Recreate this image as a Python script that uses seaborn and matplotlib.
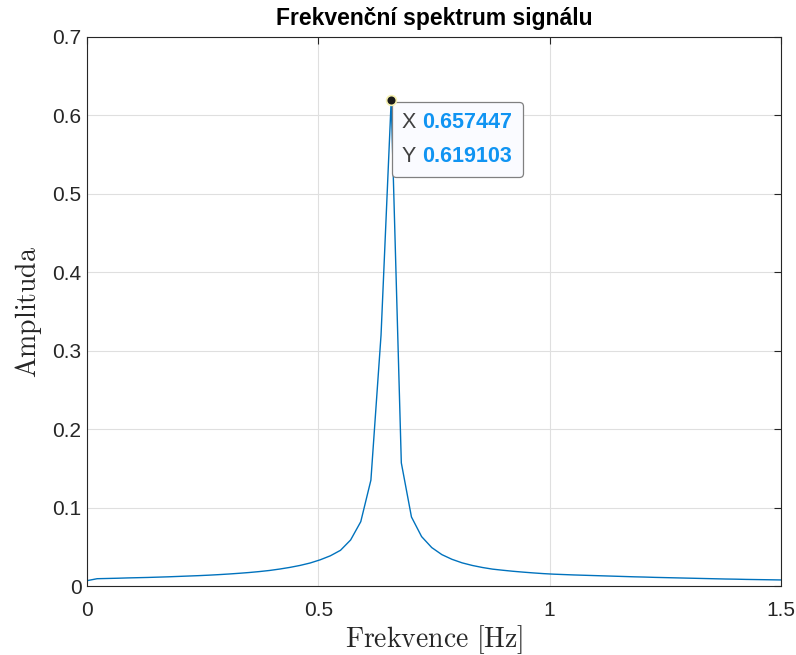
import numpy as np
import pandas as pd
import matplotlib
matplotlib.use("Agg")
import matplotlib.pyplot as plt
import seaborn as sns
from matplotlib.offsetbox import TextArea, HPacker, VPacker, AnnotationBbox

# ---- data ----
peak_freq = 0.657447
peak_amp = 0.619103
freq_step = peak_freq / 30
amplitude = [
    0.0068, 0.0093, 0.0096, 0.0099, 0.0103, 0.0106, 0.0109, 0.0113, 0.0117, 0.0122,
    0.0127, 0.0132, 0.0138, 0.0145, 0.0153, 0.0162, 0.0172, 0.0184, 0.0198, 0.0216,
    0.0237, 0.0262, 0.0293, 0.0334, 0.0385, 0.0455, 0.0587, 0.0820, 0.1350, 0.3200,
    0.619103,
    0.1570, 0.0880, 0.0630, 0.0490, 0.0400, 0.0340, 0.0295, 0.0262, 0.0236,
    0.0215, 0.0201, 0.0188, 0.0177, 0.0167, 0.0158, 0.0151, 0.0146, 0.0141, 0.0137,
    0.0133, 0.0129, 0.0125, 0.0121, 0.0117, 0.0114, 0.0110, 0.0107, 0.0104, 0.0101,
    0.0098, 0.0095, 0.0092, 0.0089, 0.0087, 0.0084, 0.0082, 0.0080, 0.0078, 0.0076,
]
frequency = np.arange(len(amplitude)) * freq_step
x_ticks = [0, 0.5, 1, 1.5]
x_ticklabels = ["0", "0.5", "1", "1.5"]
y_ticks = [0, 0.1, 0.2, 0.3, 0.4, 0.5, 0.6, 0.7]
y_ticklabels = ["0", "0.1", "0.2", "0.3", "0.4", "0.5", "0.6", "0.7"]

df = pd.DataFrame({"f": frequency, "A": amplitude})

sns.set_style("white")
plt.rcParams["font.family"] = ["Liberation Sans", "DejaVu Sans"]
plt.rcParams["mathtext.fontset"] = "cm"

fig = plt.figure(figsize=(7.96, 6.55), dpi=100)
ax = fig.add_axes([87 / 796, 1 - 586 / 655, (781 - 87) / 796, (586 - 37) / 655])

sns.lineplot(data=df, x="f", y="A", ax=ax, color="#0072BD", linewidth=1.0)

ax.set_xlim(0, 1.5)
ax.set_ylim(0, 0.7)
ax.set_xticks(x_ticks)
ax.set_xticklabels(x_ticklabels)
ax.set_yticks(y_ticks)
ax.set_yticklabels(y_ticklabels)
ax.grid(True, color="#dfdfdf", linewidth=0.8)
ax.set_axisbelow(True)
for s in ax.spines.values():
    s.set_visible(True)
    s.set_color("#262626")
    s.set_linewidth(0.8)
ax.tick_params(direction="in", length=5, width=0.8, colors="#262626",
               labelsize=15, top=True, right=True)
ax.tick_params(axis="x", pad=11)
ax.tick_params(axis="y", pad=4)
for lab in ax.get_xticklabels() + ax.get_yticklabels():
    lab.set_color("#262626")

ax.set_xlabel(r"$\mathrm{Frekvence\ [Hz]}$", fontsize=20, color="#262626", labelpad=2)
ax.set_ylabel(r"$\mathrm{Amplituda}$", fontsize=20, color="#262626", labelpad=6)
ax.set_title("Frekvenční spektrum signálu", fontsize=16.5, fontweight="bold",
             color="black", pad=9)

# data tip
ax.plot([peak_freq], [peak_amp], marker="o", markersize=7, color="#1a1a1a",
        markeredgecolor="#f5f0b0", markeredgewidth=1.2, zorder=8, clip_on=False)

blue = "#1094f2"
gray = "#404040"
fs = 15.5
row_x = HPacker(children=[TextArea("X ", textprops=dict(color=gray, fontsize=fs)),
                          TextArea(f"{peak_freq:.6f}", textprops=dict(color=blue, fontsize=fs, fontweight="bold"))],
                pad=0, sep=0, align="baseline")
row_y = HPacker(children=[TextArea("Y ", textprops=dict(color=gray, fontsize=fs)),
                          TextArea(f"{peak_amp:.6f}", textprops=dict(color=blue, fontsize=fs, fontweight="bold"))],
                pad=0, sep=0, align="baseline")
box = VPacker(children=[row_x, row_y], pad=0, sep=9, align="left")
ab = AnnotationBbox(box, (peak_freq, peak_amp), xybox=(11, -12), xycoords="data",
                    boxcoords="offset pixels", box_alignment=(0, 1), frameon=True,
                    pad=0.72,
                    bboxprops=dict(boxstyle="round,pad=0.72,rounding_size=0.25",
                                   facecolor="#fafbff", edgecolor="#808080", linewidth=0.9))
ab.set_zorder(6)
ax.add_artist(ab)

fig.savefig("out.png", dpi=100)
